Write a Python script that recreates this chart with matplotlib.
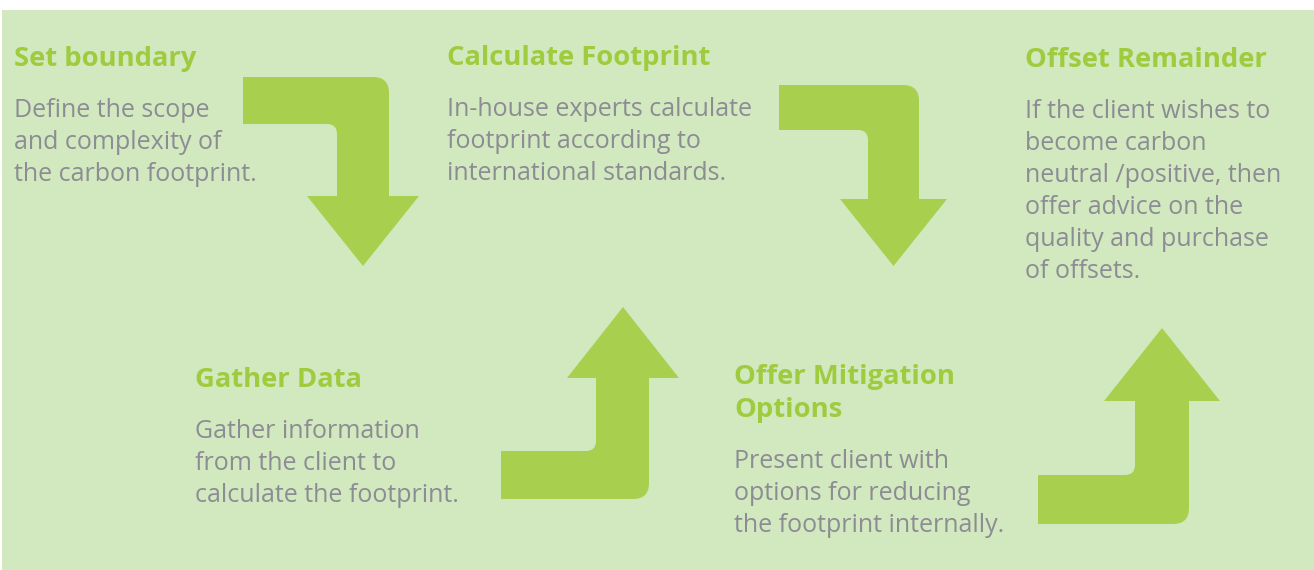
"""Five-step carbon footprint process diagram with bent arrows."""

import matplotlib

matplotlib.use("Agg")
import matplotlib.pyplot as plt  # noqa: E402
from matplotlib.patches import PathPatch, Rectangle  # noqa: E402
from matplotlib.path import Path  # noqa: E402

# Step content
step_titles = [
    "Set boundary",
    "Calculate Footprint",
    "Offset Remainder",
    "Gather Data",
    "Offer Mitigation\nOptions",
]
step_texts = [
    "Define the scope\nand complexity of\nthe carbon footprint.",
    "In-house experts calculate\nfootprint according to\ninternational standards.",
    "If the client wishes to\nbecome carbon\nneutral /positive, then\n"
    "offer advice on the\nquality and purchase\nof offsets.",
    "Gather information\nfrom the client to\ncalculate the footprint.",
    "Present client with\noptions for reducing\nthe footprint internally.",
]

# Layout (pixel space, y grows downward)
W, H = 1314, 570
text_pos = [(14, 66), (447, 65), (1025, 67), (195, 387), (734, 384)]
TITLE_GAP = 33
BODY_GAP = 51
LINE_GAP = 32

# Bent arrows: bar left, outer edge y, inner edge y, shaft left, shaft right,
# head base y, head left, head right, tip y
arrows = [
    (243, 77, 124, 337, 389, 196, 307, 419, 266),
    (779, 85, 130, 868, 919, 199, 840, 947, 266),
    (501, 499, 451, 596, 649, 378, 567, 679, 307),
    (1038, 524, 475, 1135, 1189, 401, 1104, 1220, 328),
]

BG = "#D2E8BE"
ARROW = "#A8D04E"
TITLE = "#9FCB3E"
BODY = "#8C8C94"
FONT = ["Open Sans", "DejaVu Sans"]


def bent_arrow(x0, yo, yi, sl, sr, hb, hl, hr, ty, R=16, r=10):
    s = 1 if hb > yo else -1  # +1 points down, -1 points up
    tx = (hl + hr) / 2
    verts = [
        (x0, yo), (sr - R, yo), (sr, yo), (sr, yo + s * R),
        (sr, hb), (hr, hb), (tx, ty), (hl, hb), (sl, hb),
        (sl, yi + s * r), (sl, yi), (sl - r, yi), (x0, yi), (x0, yo),
    ]
    codes = [
        Path.MOVETO, Path.LINETO, Path.CURVE3, Path.CURVE3,
        Path.LINETO, Path.LINETO, Path.LINETO, Path.LINETO, Path.LINETO,
        Path.LINETO, Path.CURVE3, Path.CURVE3, Path.LINETO, Path.CLOSEPOLY,
    ]
    return Path(verts, codes)


fig = plt.figure(figsize=(W / 100, H / 100), dpi=100)
fig.patch.set_facecolor("white")
ax = fig.add_axes([0, 0, 1, 1])
ax.set_xlim(0, W)
ax.set_ylim(H, 0)
ax.axis("off")

ax.add_patch(Rectangle((2, 10), W - 2, H - 10, facecolor=BG, edgecolor="none"))

for a in arrows:
    ax.add_patch(PathPatch(bent_arrow(*a), facecolor=ARROW, edgecolor="none"))

for (x, y), title, body in zip(text_pos, step_titles, step_texts):
    tlines = title.split("\n")
    for i, line in enumerate(tlines):
        ax.text(x, y + i * TITLE_GAP, line, color=TITLE, fontsize=19.7,
                fontweight="bold", family=FONT, va="baseline", ha="left")
    yb = y + (len(tlines) - 1) * TITLE_GAP + BODY_GAP
    for j, line in enumerate(body.split("\n")):
        ax.text(x, yb + j * LINE_GAP, line, color=BODY, fontsize=18,
                family=FONT, va="baseline", ha="left")

fig.savefig("out.png", dpi=100, facecolor=fig.get_facecolor())
